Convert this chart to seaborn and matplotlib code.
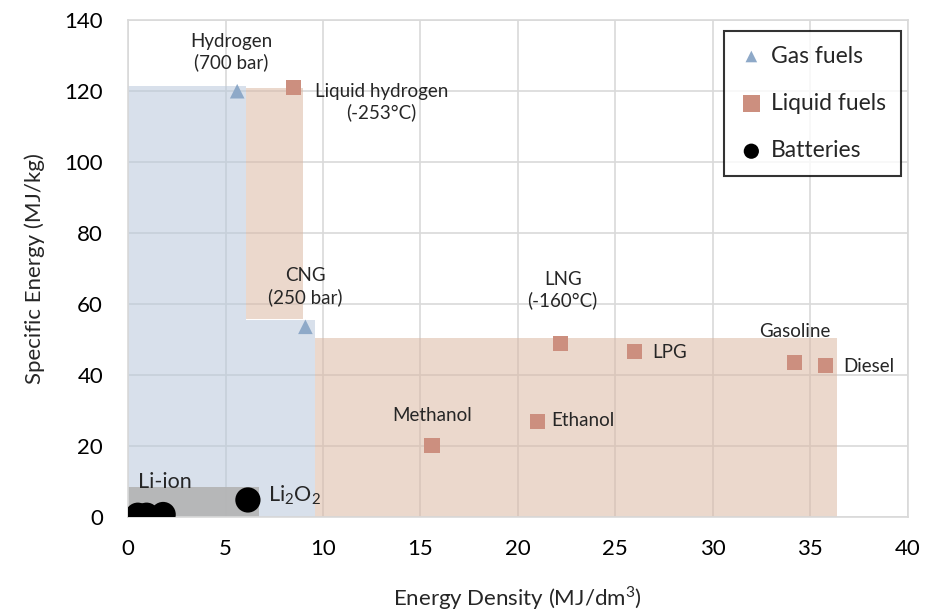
import numpy as np
import pandas as pd
import matplotlib
matplotlib.use("Agg")
import matplotlib.pyplot as plt
import seaborn as sns

# ── data ────────────────────────────────────────────────────────────────────
gas_names    = ["Hydrogen (700 bar)", "CNG (250 bar)"]
gas_density  = [5.6, 9.1]
gas_specific = [120.0, 53.6]

liq_names    = ["Liquid hydrogen", "LNG", "LPG", "Gasoline", "Diesel", "Ethanol", "Methanol"]
liq_density  = [8.5, 22.2, 26.0, 34.2, 35.8, 21.0, 15.6]
liq_specific = [121.0, 48.8, 46.6, 43.5, 42.8, 27.0, 20.2]

bat_names    = ["Li-ion a", "Li-ion b", "Li-ion c", "Li2O2"]
bat_density  = [0.5, 0.95, 1.8, 6.15]
bat_specific = [0.5, 0.5, 0.7, 4.8]

# shaded envelopes as step outlines: x edges and the upper bound on each step
gas_env_x = [0, 6.05, 9.6]
gas_env_y = [121.5, 55.5, 55.5]
# liquid: two separate boxes (x0, x1, y0, y1)
liq_regions = [(6.05, 9.0, 55.8, 120.8), (9.6, 36.4, 0, 50.5)]
bat_regions = [(0, 6.7, 0, 8.5)]

labels = [
    ("Hydrogen\n(700 bar)", 5.3, 131, "center", 13.5),
    ("Liquid hydrogen\n(-253°C)", 13.0, 117, "center", 13.5),
    ("CNG\n(250 bar)", 9.1, 65, "center", 13.5),
    ("LNG\n(-160°C)", 22.3, 64, "center", 13.5),
    ("LPG", 26.9, 46.5, "left", 13.5),
    ("Gasoline", 34.2, 52.4, "center", 13.5),
    ("Diesel", 36.7, 42.5, "left", 13.5),
    ("Ethanol", 21.7, 27.3, "left", 13.5),
    ("Methanol", 15.6, 28.7, "center", 13.5),
    ("Li-ion", 0.5, 9.8, "left", 15.5),
    ("Li$_2$O$_2$", 7.2, 6.0, "left", 15.5),
]

GAS_C, LIQ_C, BAT_C = "#8ea9c8", "#cc8f7f", "#000000"

# ── plot ────────────────────────────────────────────────────────────────────
sns.set_style("white")
plt.rcParams["font.family"] = ["Lato", "DejaVu Sans"]
plt.rcParams["mathtext.fontset"] = "custom"
plt.rcParams["mathtext.rm"] = "Lato"

fig = plt.figure(figsize=(9.28, 6.14), dpi=100)
ax = fig.add_axes([0.138, 0.158, 0.84, 0.809])

ax.fill_between(gas_env_x, 0, gas_env_y, step="post", color="#b8c8db",
                alpha=0.55, lw=0, zorder=1)
for x0, x1, y0, y1 in liq_regions:
    ax.fill_between([x0, x1], y0, y1, color="#dbb8a3", alpha=0.55, lw=0, zorder=1)
for x0, x1, y0, y1 in bat_regions:
    ax.fill_between([x0, x1], y0, y1, color="#b3b3b3", alpha=0.9, lw=0, zorder=1.5)

gas = pd.DataFrame({"x": gas_density, "y": gas_specific})
liq = pd.DataFrame({"x": liq_density, "y": liq_specific})
bat = pd.DataFrame({"x": bat_density, "y": bat_specific})

sns.scatterplot(data=gas, x="x", y="y", marker="^", s=110, color=GAS_C,
                edgecolor="none", label="Gas fuels", ax=ax, zorder=3)
sns.scatterplot(data=liq, x="x", y="y", marker="s", s=120, color=LIQ_C,
                edgecolor="none", label="Liquid fuels", ax=ax, zorder=3)
sns.scatterplot(data=bat, x="x", y="y", marker="o", s=330, color=BAT_C,
                edgecolor="none", label="Batteries", ax=ax, zorder=3)

for txt, x, y, ha, fs in labels:
    ax.text(x, y, txt, ha=ha, va="center", fontsize=fs, color="#262626",
            multialignment="center", zorder=4, linespacing=1.25)

ax.set_xlim(0, 40)
ax.set_ylim(0, 140)
ax.set_xticks(np.arange(0, 41, 5))
ax.set_yticks(np.arange(0, 141, 20))
ax.grid(True, color="#d9d9d9", linewidth=1.2, zorder=0)
ax.set_axisbelow(True)
for sp in ax.spines.values():
    sp.set_color("#d9d9d9")
    sp.set_linewidth(1.2)
ax.tick_params(axis="x", labelsize=16, length=0, pad=16, colors="#000000")
ax.tick_params(axis="y", labelsize=16, length=0, pad=18, colors="#000000")
ax.set_xlabel("Energy Density (MJ/dm$^3$)", fontsize=16, labelpad=18)
ax.set_ylabel("Specific Energy (MJ/kg)", fontsize=16, labelpad=14)

leg = ax.legend(loc="upper right", bbox_to_anchor=(1.0, 0.993), fontsize=16.5,
                frameon=True, fancybox=False, edgecolor="black",
                labelspacing=1.15, handletextpad=0.3, handlelength=1.1,
                borderpad=0.65, borderaxespad=0.3)
leg.get_frame().set_linewidth(1.5)
leg.legend_handles[0].set_sizes([70])
leg.legend_handles[1].set_sizes([150])
leg.legend_handles[2].set_sizes([120])

fig.savefig("out.png", dpi=100)
